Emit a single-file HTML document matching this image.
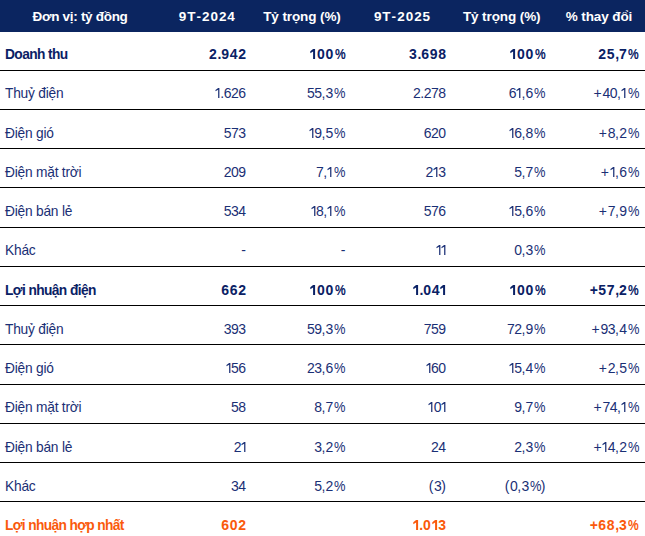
<!DOCTYPE html>
<html><head><meta charset="utf-8"><style>
html,body{margin:0;padding:0;background:#fff;}
body{width:645px;height:536px;position:relative;overflow:hidden;font-family:"Liberation Sans",sans-serif;}
.hdr{position:absolute;left:0;top:0;width:645px;height:32px;background:#0b2560;}
.t{position:absolute;white-space:nowrap;}
.h{position:absolute;white-space:nowrap;font-weight:bold;color:#fff;text-align:center;}
.ln{position:absolute;left:0;width:645px;height:1px;background:#000;}
.b{font-weight:bold;color:#0a2165;}
.r{color:#1a2f75;-webkit-text-stroke:0px #1a2f75;}
.o{font-weight:bold;color:#fa5a0c;}
.R{text-align:right;}
</style></head><body>
<div class="hdr"></div>
<div class="h" style="left:-20px;width:200px;top:9.57px;font-size:13.5px;line-height:13.5px;letter-spacing:-0.3px;">Đơn vị: tỷ đồng</div>
<div class="h" style="left:106.80000000000001px;width:200px;top:9.57px;font-size:13.5px;line-height:13.5px;"><span style="letter-spacing:0.90px">9</span><span style="letter-spacing:1.00px">T</span><span style="letter-spacing:1.20px">-</span><span style="letter-spacing:0.90px">2</span><span style="letter-spacing:0.90px">0</span><span style="letter-spacing:0.90px">2</span>4</div>
<div class="h" style="left:202px;width:200px;top:9.57px;font-size:13.5px;line-height:13.5px;letter-spacing:-0.1px;">Tỷ trọng (%)</div>
<div class="h" style="left:302px;width:200px;top:9.57px;font-size:13.5px;line-height:13.5px;"><span style="letter-spacing:0.90px">9</span><span style="letter-spacing:1.00px">T</span><span style="letter-spacing:1.20px">-</span><span style="letter-spacing:0.90px">2</span><span style="letter-spacing:0.90px">0</span><span style="letter-spacing:0.90px">2</span>5</div>
<div class="h" style="left:401.7px;width:200px;top:9.57px;font-size:13.5px;line-height:13.5px;letter-spacing:-0.1px;">Tỷ trọng (%)</div>
<div class="h" style="left:499px;width:200px;top:9.57px;font-size:13.5px;line-height:13.5px;letter-spacing:-0.1px;">% thay đổi</div>
<div class="t b" style="left:5px;top:47.96px;font-size:13.75px;line-height:13.75px;letter-spacing:-0.6px">Doanh thu</div>
<div class="t b R" style="left:96px;width:150px;top:47.15px;font-size:14px;line-height:14px"><span style="letter-spacing:0.70px">2</span><span style="letter-spacing:-0.10px">.</span><span style="letter-spacing:0.70px">9</span><span style="letter-spacing:0.70px">4</span>2</div>
<div class="t b R" style="left:195.3px;width:150px;top:47.15px;font-size:14px;line-height:14px"><svg width="6.7" height="10" viewBox="0 0 6.7 10" style="display:inline-block;vertical-align:baseline;margin-right:0.00px"><polygon points="0.30,2.20 3.10,0.00 5.10,0.00 5.10,10.00 3.10,10.00 3.10,2.60 0.30,4.20" fill="currentColor"/></svg><span style="letter-spacing:0.70px">0</span><span style="letter-spacing:1.40px">0</span><span style="display:inline-block;transform:scaleX(0.86);transform-origin:0 0;margin-right:-1.74px">%</span></div>
<div class="t b R" style="left:296px;width:150px;top:47.15px;font-size:14px;line-height:14px"><span style="letter-spacing:0.70px">3</span><span style="letter-spacing:-0.10px">.</span><span style="letter-spacing:0.70px">6</span><span style="letter-spacing:0.70px">9</span>8</div>
<div class="t b R" style="left:395.29999999999995px;width:150px;top:47.15px;font-size:14px;line-height:14px"><svg width="6.7" height="10" viewBox="0 0 6.7 10" style="display:inline-block;vertical-align:baseline;margin-right:0.00px"><polygon points="0.30,2.20 3.10,0.00 5.10,0.00 5.10,10.00 3.10,10.00 3.10,2.60 0.30,4.20" fill="currentColor"/></svg><span style="letter-spacing:0.70px">0</span><span style="letter-spacing:1.40px">0</span><span style="display:inline-block;transform:scaleX(0.86);transform-origin:0 0;margin-right:-1.74px">%</span></div>
<div class="t b R" style="left:489px;width:150px;top:47.15px;font-size:14px;line-height:14px"><span style="letter-spacing:0.70px">2</span><span style="letter-spacing:0.70px">5</span><span style="letter-spacing:-0.10px">,</span><span style="letter-spacing:1.40px">7</span><span style="display:inline-block;transform:scaleX(0.86);transform-origin:0 0;margin-right:-1.74px">%</span></div>
<div class="t r" style="left:5px;top:86.96px;font-size:13.75px;line-height:13.75px;letter-spacing:-0.22px">Thuỷ điện</div>
<div class="t r R" style="left:96px;width:150px;top:86.15px;font-size:14px;line-height:14px"><svg width="5.4" height="10" viewBox="0 0 5.4 10" style="display:inline-block;vertical-align:baseline;margin-right:0.00px"><polygon points="0.50,2.00 3.15,0.00 4.40,0.00 4.40,10.00 3.15,10.00 3.15,1.80 0.50,3.30" fill="currentColor"/></svg><span style="letter-spacing:-0.55px">.</span><span style="letter-spacing:-0.55px">6</span><span style="letter-spacing:-0.55px">2</span>6</div>
<div class="t r R" style="left:195.3px;width:150px;top:86.15px;font-size:14px;line-height:14px"><span style="letter-spacing:-0.55px">5</span><span style="letter-spacing:-0.55px">5</span><span style="letter-spacing:0.30px">,</span><span style="letter-spacing:0.45px">3</span><span style="display:inline-block;transform:scaleX(0.92);transform-origin:0 0;margin-right:-1.00px">%</span></div>
<div class="t r R" style="left:296px;width:150px;top:86.15px;font-size:14px;line-height:14px"><span style="letter-spacing:-0.55px">2</span><span style="letter-spacing:-0.55px">.</span><span style="letter-spacing:-0.55px">2</span><span style="letter-spacing:-0.55px">7</span>8</div>
<div class="t r R" style="left:395.29999999999995px;width:150px;top:86.15px;font-size:14px;line-height:14px"><span style="letter-spacing:-0.55px">6</span><svg width="5.4" height="10" viewBox="0 0 5.4 10" style="display:inline-block;vertical-align:baseline;margin-right:0.00px"><polygon points="0.50,2.00 3.15,0.00 4.40,0.00 4.40,10.00 3.15,10.00 3.15,1.80 0.50,3.30" fill="currentColor"/></svg><span style="letter-spacing:0.30px">,</span><span style="letter-spacing:0.45px">6</span><span style="display:inline-block;transform:scaleX(0.92);transform-origin:0 0;margin-right:-1.00px">%</span></div>
<div class="t r R" style="left:489px;width:150px;top:86.15px;font-size:14px;line-height:14px"><span style="letter-spacing:0.90px">+</span><span style="letter-spacing:-0.55px">4</span><span style="letter-spacing:-0.55px">0</span><span style="letter-spacing:0.30px">,</span><svg width="5.4" height="10" viewBox="0 0 5.4 10" style="display:inline-block;vertical-align:baseline;margin-right:1.00px"><polygon points="0.50,2.00 3.15,0.00 4.40,0.00 4.40,10.00 3.15,10.00 3.15,1.80 0.50,3.30" fill="currentColor"/></svg><span style="display:inline-block;transform:scaleX(0.92);transform-origin:0 0;margin-right:-1.00px">%</span></div>
<div class="t r" style="left:5px;top:126.96px;font-size:13.75px;line-height:13.75px;letter-spacing:-0.22px">Điện gió</div>
<div class="t r R" style="left:96px;width:150px;top:126.15px;font-size:14px;line-height:14px"><span style="letter-spacing:-0.55px">5</span><span style="letter-spacing:-0.55px">7</span>3</div>
<div class="t r R" style="left:195.3px;width:150px;top:126.15px;font-size:14px;line-height:14px"><svg width="5.4" height="10" viewBox="0 0 5.4 10" style="display:inline-block;vertical-align:baseline;margin-right:0.00px"><polygon points="0.50,2.00 3.15,0.00 4.40,0.00 4.40,10.00 3.15,10.00 3.15,1.80 0.50,3.30" fill="currentColor"/></svg><span style="letter-spacing:-0.55px">9</span><span style="letter-spacing:0.30px">,</span><span style="letter-spacing:0.45px">5</span><span style="display:inline-block;transform:scaleX(0.92);transform-origin:0 0;margin-right:-1.00px">%</span></div>
<div class="t r R" style="left:296px;width:150px;top:126.15px;font-size:14px;line-height:14px"><span style="letter-spacing:-0.55px">6</span><span style="letter-spacing:-0.55px">2</span>0</div>
<div class="t r R" style="left:395.29999999999995px;width:150px;top:126.15px;font-size:14px;line-height:14px"><svg width="5.4" height="10" viewBox="0 0 5.4 10" style="display:inline-block;vertical-align:baseline;margin-right:0.00px"><polygon points="0.50,2.00 3.15,0.00 4.40,0.00 4.40,10.00 3.15,10.00 3.15,1.80 0.50,3.30" fill="currentColor"/></svg><span style="letter-spacing:-0.55px">6</span><span style="letter-spacing:0.30px">,</span><span style="letter-spacing:0.45px">8</span><span style="display:inline-block;transform:scaleX(0.92);transform-origin:0 0;margin-right:-1.00px">%</span></div>
<div class="t r R" style="left:489px;width:150px;top:126.15px;font-size:14px;line-height:14px"><span style="letter-spacing:0.90px">+</span><span style="letter-spacing:-0.55px">8</span><span style="letter-spacing:0.30px">,</span><span style="letter-spacing:0.45px">2</span><span style="display:inline-block;transform:scaleX(0.92);transform-origin:0 0;margin-right:-1.00px">%</span></div>
<div class="t r" style="left:5px;top:165.96px;font-size:13.75px;line-height:13.75px;letter-spacing:-0.22px">Điện mặt trời</div>
<div class="t r R" style="left:96px;width:150px;top:165.15px;font-size:14px;line-height:14px"><span style="letter-spacing:-0.55px">2</span><span style="letter-spacing:-0.55px">0</span>9</div>
<div class="t r R" style="left:195.3px;width:150px;top:165.15px;font-size:14px;line-height:14px"><span style="letter-spacing:-0.55px">7</span><span style="letter-spacing:0.30px">,</span><svg width="5.4" height="10" viewBox="0 0 5.4 10" style="display:inline-block;vertical-align:baseline;margin-right:1.00px"><polygon points="0.50,2.00 3.15,0.00 4.40,0.00 4.40,10.00 3.15,10.00 3.15,1.80 0.50,3.30" fill="currentColor"/></svg><span style="display:inline-block;transform:scaleX(0.92);transform-origin:0 0;margin-right:-1.00px">%</span></div>
<div class="t r R" style="left:296px;width:150px;top:165.15px;font-size:14px;line-height:14px"><span style="letter-spacing:-0.55px">2</span><svg width="5.4" height="10" viewBox="0 0 5.4 10" style="display:inline-block;vertical-align:baseline;margin-right:0.00px"><polygon points="0.50,2.00 3.15,0.00 4.40,0.00 4.40,10.00 3.15,10.00 3.15,1.80 0.50,3.30" fill="currentColor"/></svg>3</div>
<div class="t r R" style="left:395.29999999999995px;width:150px;top:165.15px;font-size:14px;line-height:14px"><span style="letter-spacing:-0.55px">5</span><span style="letter-spacing:0.30px">,</span><span style="letter-spacing:0.45px">7</span><span style="display:inline-block;transform:scaleX(0.92);transform-origin:0 0;margin-right:-1.00px">%</span></div>
<div class="t r R" style="left:489px;width:150px;top:165.15px;font-size:14px;line-height:14px"><span style="letter-spacing:0.90px">+</span><svg width="5.4" height="10" viewBox="0 0 5.4 10" style="display:inline-block;vertical-align:baseline;margin-right:0.00px"><polygon points="0.50,2.00 3.15,0.00 4.40,0.00 4.40,10.00 3.15,10.00 3.15,1.80 0.50,3.30" fill="currentColor"/></svg><span style="letter-spacing:0.30px">,</span><span style="letter-spacing:0.45px">6</span><span style="display:inline-block;transform:scaleX(0.92);transform-origin:0 0;margin-right:-1.00px">%</span></div>
<div class="t r" style="left:5px;top:204.96px;font-size:13.75px;line-height:13.75px;letter-spacing:-0.22px">Điện bán lẻ</div>
<div class="t r R" style="left:96px;width:150px;top:204.15px;font-size:14px;line-height:14px"><span style="letter-spacing:-0.55px">5</span><span style="letter-spacing:-0.55px">3</span>4</div>
<div class="t r R" style="left:195.3px;width:150px;top:204.15px;font-size:14px;line-height:14px"><svg width="5.4" height="10" viewBox="0 0 5.4 10" style="display:inline-block;vertical-align:baseline;margin-right:0.00px"><polygon points="0.50,2.00 3.15,0.00 4.40,0.00 4.40,10.00 3.15,10.00 3.15,1.80 0.50,3.30" fill="currentColor"/></svg><span style="letter-spacing:-0.55px">8</span><span style="letter-spacing:0.30px">,</span><svg width="5.4" height="10" viewBox="0 0 5.4 10" style="display:inline-block;vertical-align:baseline;margin-right:1.00px"><polygon points="0.50,2.00 3.15,0.00 4.40,0.00 4.40,10.00 3.15,10.00 3.15,1.80 0.50,3.30" fill="currentColor"/></svg><span style="display:inline-block;transform:scaleX(0.92);transform-origin:0 0;margin-right:-1.00px">%</span></div>
<div class="t r R" style="left:296px;width:150px;top:204.15px;font-size:14px;line-height:14px"><span style="letter-spacing:-0.55px">5</span><span style="letter-spacing:-0.55px">7</span>6</div>
<div class="t r R" style="left:395.29999999999995px;width:150px;top:204.15px;font-size:14px;line-height:14px"><svg width="5.4" height="10" viewBox="0 0 5.4 10" style="display:inline-block;vertical-align:baseline;margin-right:0.00px"><polygon points="0.50,2.00 3.15,0.00 4.40,0.00 4.40,10.00 3.15,10.00 3.15,1.80 0.50,3.30" fill="currentColor"/></svg><span style="letter-spacing:-0.55px">5</span><span style="letter-spacing:0.30px">,</span><span style="letter-spacing:0.45px">6</span><span style="display:inline-block;transform:scaleX(0.92);transform-origin:0 0;margin-right:-1.00px">%</span></div>
<div class="t r R" style="left:489px;width:150px;top:204.15px;font-size:14px;line-height:14px"><span style="letter-spacing:0.90px">+</span><span style="letter-spacing:-0.55px">7</span><span style="letter-spacing:0.30px">,</span><span style="letter-spacing:0.45px">9</span><span style="display:inline-block;transform:scaleX(0.92);transform-origin:0 0;margin-right:-1.00px">%</span></div>
<div class="t r" style="left:5px;top:243.96px;font-size:13.75px;line-height:13.75px;letter-spacing:-0.22px">Khác</div>
<div class="t r R" style="left:96px;width:150px;top:243.15px;font-size:14px;line-height:14px">-</div>
<div class="t r R" style="left:195.3px;width:150px;top:243.15px;font-size:14px;line-height:14px">-</div>
<div class="t r R" style="left:296px;width:150px;top:243.15px;font-size:14px;line-height:14px"><svg width="5.4" height="10" viewBox="0 0 5.4 10" style="display:inline-block;vertical-align:baseline;margin-right:0.00px"><polygon points="0.50,2.00 3.15,0.00 4.40,0.00 4.40,10.00 3.15,10.00 3.15,1.80 0.50,3.30" fill="currentColor"/></svg><svg width="5.0" height="10" viewBox="0 0 5.0 10" style="display:inline-block;vertical-align:baseline;margin-right:0.00px"><polygon points="0.50,2.00 3.15,0.00 4.40,0.00 4.40,10.00 3.15,10.00 3.15,1.80 0.50,3.30" fill="currentColor"/></svg></div>
<div class="t r R" style="left:395.29999999999995px;width:150px;top:243.15px;font-size:14px;line-height:14px"><span style="letter-spacing:-0.55px">0</span><span style="letter-spacing:0.30px">,</span><span style="letter-spacing:0.45px">3</span><span style="display:inline-block;transform:scaleX(0.92);transform-origin:0 0;margin-right:-1.00px">%</span></div>
<div class="t b" style="left:5px;top:283.96px;font-size:13.75px;line-height:13.75px;letter-spacing:-0.6px">Lợi nhuận điện</div>
<div class="t b R" style="left:96px;width:150px;top:283.15px;font-size:14px;line-height:14px"><span style="letter-spacing:0.70px">6</span><span style="letter-spacing:0.70px">6</span>2</div>
<div class="t b R" style="left:195.3px;width:150px;top:283.15px;font-size:14px;line-height:14px"><svg width="6.7" height="10" viewBox="0 0 6.7 10" style="display:inline-block;vertical-align:baseline;margin-right:0.00px"><polygon points="0.30,2.20 3.10,0.00 5.10,0.00 5.10,10.00 3.10,10.00 3.10,2.60 0.30,4.20" fill="currentColor"/></svg><span style="letter-spacing:0.70px">0</span><span style="letter-spacing:1.40px">0</span><span style="display:inline-block;transform:scaleX(0.86);transform-origin:0 0;margin-right:-1.74px">%</span></div>
<div class="t b R" style="left:296px;width:150px;top:283.15px;font-size:14px;line-height:14px"><svg width="6.7" height="10" viewBox="0 0 6.7 10" style="display:inline-block;vertical-align:baseline;margin-right:0.00px"><polygon points="0.30,2.20 3.10,0.00 5.10,0.00 5.10,10.00 3.10,10.00 3.10,2.60 0.30,4.20" fill="currentColor"/></svg><span style="letter-spacing:-0.10px">.</span><span style="letter-spacing:0.70px">0</span><span style="letter-spacing:0.70px">4</span><svg width="5.7" height="10" viewBox="0 0 5.7 10" style="display:inline-block;vertical-align:baseline;margin-right:0.00px"><polygon points="0.30,2.20 3.10,0.00 5.10,0.00 5.10,10.00 3.10,10.00 3.10,2.60 0.30,4.20" fill="currentColor"/></svg></div>
<div class="t b R" style="left:395.29999999999995px;width:150px;top:283.15px;font-size:14px;line-height:14px"><svg width="6.7" height="10" viewBox="0 0 6.7 10" style="display:inline-block;vertical-align:baseline;margin-right:0.00px"><polygon points="0.30,2.20 3.10,0.00 5.10,0.00 5.10,10.00 3.10,10.00 3.10,2.60 0.30,4.20" fill="currentColor"/></svg><span style="letter-spacing:0.70px">0</span><span style="letter-spacing:1.40px">0</span><span style="display:inline-block;transform:scaleX(0.86);transform-origin:0 0;margin-right:-1.74px">%</span></div>
<div class="t b R" style="left:489px;width:150px;top:283.15px;font-size:14px;line-height:14px"><span style="letter-spacing:0.30px">+</span><span style="letter-spacing:0.70px">5</span><span style="letter-spacing:0.70px">7</span><span style="letter-spacing:-0.10px">,</span><span style="letter-spacing:1.40px">2</span><span style="display:inline-block;transform:scaleX(0.86);transform-origin:0 0;margin-right:-1.74px">%</span></div>
<div class="t r" style="left:5px;top:322.96px;font-size:13.75px;line-height:13.75px;letter-spacing:-0.22px">Thuỷ điện</div>
<div class="t r R" style="left:96px;width:150px;top:322.15px;font-size:14px;line-height:14px"><span style="letter-spacing:-0.55px">3</span><span style="letter-spacing:-0.55px">9</span>3</div>
<div class="t r R" style="left:195.3px;width:150px;top:322.15px;font-size:14px;line-height:14px"><span style="letter-spacing:-0.55px">5</span><span style="letter-spacing:-0.55px">9</span><span style="letter-spacing:0.30px">,</span><span style="letter-spacing:0.45px">3</span><span style="display:inline-block;transform:scaleX(0.92);transform-origin:0 0;margin-right:-1.00px">%</span></div>
<div class="t r R" style="left:296px;width:150px;top:322.15px;font-size:14px;line-height:14px"><span style="letter-spacing:-0.55px">7</span><span style="letter-spacing:-0.55px">5</span>9</div>
<div class="t r R" style="left:395.29999999999995px;width:150px;top:322.15px;font-size:14px;line-height:14px"><span style="letter-spacing:-0.55px">7</span><span style="letter-spacing:-0.55px">2</span><span style="letter-spacing:0.30px">,</span><span style="letter-spacing:0.45px">9</span><span style="display:inline-block;transform:scaleX(0.92);transform-origin:0 0;margin-right:-1.00px">%</span></div>
<div class="t r R" style="left:489px;width:150px;top:322.15px;font-size:14px;line-height:14px"><span style="letter-spacing:0.90px">+</span><span style="letter-spacing:-0.55px">9</span><span style="letter-spacing:-0.55px">3</span><span style="letter-spacing:0.30px">,</span><span style="letter-spacing:0.45px">4</span><span style="display:inline-block;transform:scaleX(0.92);transform-origin:0 0;margin-right:-1.00px">%</span></div>
<div class="t r" style="left:5px;top:361.96px;font-size:13.75px;line-height:13.75px;letter-spacing:-0.22px">Điện gió</div>
<div class="t r R" style="left:96px;width:150px;top:361.15px;font-size:14px;line-height:14px"><svg width="5.4" height="10" viewBox="0 0 5.4 10" style="display:inline-block;vertical-align:baseline;margin-right:0.00px"><polygon points="0.50,2.00 3.15,0.00 4.40,0.00 4.40,10.00 3.15,10.00 3.15,1.80 0.50,3.30" fill="currentColor"/></svg><span style="letter-spacing:-0.55px">5</span>6</div>
<div class="t r R" style="left:195.3px;width:150px;top:361.15px;font-size:14px;line-height:14px"><span style="letter-spacing:-0.55px">2</span><span style="letter-spacing:-0.55px">3</span><span style="letter-spacing:0.30px">,</span><span style="letter-spacing:0.45px">6</span><span style="display:inline-block;transform:scaleX(0.92);transform-origin:0 0;margin-right:-1.00px">%</span></div>
<div class="t r R" style="left:296px;width:150px;top:361.15px;font-size:14px;line-height:14px"><svg width="5.4" height="10" viewBox="0 0 5.4 10" style="display:inline-block;vertical-align:baseline;margin-right:0.00px"><polygon points="0.50,2.00 3.15,0.00 4.40,0.00 4.40,10.00 3.15,10.00 3.15,1.80 0.50,3.30" fill="currentColor"/></svg><span style="letter-spacing:-0.55px">6</span>0</div>
<div class="t r R" style="left:395.29999999999995px;width:150px;top:361.15px;font-size:14px;line-height:14px"><svg width="5.4" height="10" viewBox="0 0 5.4 10" style="display:inline-block;vertical-align:baseline;margin-right:0.00px"><polygon points="0.50,2.00 3.15,0.00 4.40,0.00 4.40,10.00 3.15,10.00 3.15,1.80 0.50,3.30" fill="currentColor"/></svg><span style="letter-spacing:-0.55px">5</span><span style="letter-spacing:0.30px">,</span><span style="letter-spacing:0.45px">4</span><span style="display:inline-block;transform:scaleX(0.92);transform-origin:0 0;margin-right:-1.00px">%</span></div>
<div class="t r R" style="left:489px;width:150px;top:361.15px;font-size:14px;line-height:14px"><span style="letter-spacing:0.90px">+</span><span style="letter-spacing:-0.55px">2</span><span style="letter-spacing:0.30px">,</span><span style="letter-spacing:0.45px">5</span><span style="display:inline-block;transform:scaleX(0.92);transform-origin:0 0;margin-right:-1.00px">%</span></div>
<div class="t r" style="left:5px;top:400.96px;font-size:13.75px;line-height:13.75px;letter-spacing:-0.22px">Điện mặt trời</div>
<div class="t r R" style="left:96px;width:150px;top:400.15px;font-size:14px;line-height:14px"><span style="letter-spacing:-0.55px">5</span>8</div>
<div class="t r R" style="left:195.3px;width:150px;top:400.15px;font-size:14px;line-height:14px"><span style="letter-spacing:-0.55px">8</span><span style="letter-spacing:0.30px">,</span><span style="letter-spacing:0.45px">7</span><span style="display:inline-block;transform:scaleX(0.92);transform-origin:0 0;margin-right:-1.00px">%</span></div>
<div class="t r R" style="left:296px;width:150px;top:400.15px;font-size:14px;line-height:14px"><svg width="5.4" height="10" viewBox="0 0 5.4 10" style="display:inline-block;vertical-align:baseline;margin-right:0.00px"><polygon points="0.50,2.00 3.15,0.00 4.40,0.00 4.40,10.00 3.15,10.00 3.15,1.80 0.50,3.30" fill="currentColor"/></svg><span style="letter-spacing:-0.55px">0</span><svg width="5.0" height="10" viewBox="0 0 5.0 10" style="display:inline-block;vertical-align:baseline;margin-right:0.00px"><polygon points="0.50,2.00 3.15,0.00 4.40,0.00 4.40,10.00 3.15,10.00 3.15,1.80 0.50,3.30" fill="currentColor"/></svg></div>
<div class="t r R" style="left:395.29999999999995px;width:150px;top:400.15px;font-size:14px;line-height:14px"><span style="letter-spacing:-0.55px">9</span><span style="letter-spacing:0.30px">,</span><span style="letter-spacing:0.45px">7</span><span style="display:inline-block;transform:scaleX(0.92);transform-origin:0 0;margin-right:-1.00px">%</span></div>
<div class="t r R" style="left:489px;width:150px;top:400.15px;font-size:14px;line-height:14px"><span style="letter-spacing:0.90px">+</span><span style="letter-spacing:-0.55px">7</span><span style="letter-spacing:-0.55px">4</span><span style="letter-spacing:0.30px">,</span><svg width="5.4" height="10" viewBox="0 0 5.4 10" style="display:inline-block;vertical-align:baseline;margin-right:1.00px"><polygon points="0.50,2.00 3.15,0.00 4.40,0.00 4.40,10.00 3.15,10.00 3.15,1.80 0.50,3.30" fill="currentColor"/></svg><span style="display:inline-block;transform:scaleX(0.92);transform-origin:0 0;margin-right:-1.00px">%</span></div>
<div class="t r" style="left:5px;top:440.96px;font-size:13.75px;line-height:13.75px;letter-spacing:-0.22px">Điện bán lẻ</div>
<div class="t r R" style="left:96px;width:150px;top:440.15px;font-size:14px;line-height:14px"><span style="letter-spacing:-0.55px">2</span><svg width="5.0" height="10" viewBox="0 0 5.0 10" style="display:inline-block;vertical-align:baseline;margin-right:0.00px"><polygon points="0.50,2.00 3.15,0.00 4.40,0.00 4.40,10.00 3.15,10.00 3.15,1.80 0.50,3.30" fill="currentColor"/></svg></div>
<div class="t r R" style="left:195.3px;width:150px;top:440.15px;font-size:14px;line-height:14px"><span style="letter-spacing:-0.55px">3</span><span style="letter-spacing:0.30px">,</span><span style="letter-spacing:0.45px">2</span><span style="display:inline-block;transform:scaleX(0.92);transform-origin:0 0;margin-right:-1.00px">%</span></div>
<div class="t r R" style="left:296px;width:150px;top:440.15px;font-size:14px;line-height:14px"><span style="letter-spacing:-0.55px">2</span>4</div>
<div class="t r R" style="left:395.29999999999995px;width:150px;top:440.15px;font-size:14px;line-height:14px"><span style="letter-spacing:-0.55px">2</span><span style="letter-spacing:0.30px">,</span><span style="letter-spacing:0.45px">3</span><span style="display:inline-block;transform:scaleX(0.92);transform-origin:0 0;margin-right:-1.00px">%</span></div>
<div class="t r R" style="left:489px;width:150px;top:440.15px;font-size:14px;line-height:14px"><span style="letter-spacing:0.90px">+</span><svg width="5.4" height="10" viewBox="0 0 5.4 10" style="display:inline-block;vertical-align:baseline;margin-right:0.00px"><polygon points="0.50,2.00 3.15,0.00 4.40,0.00 4.40,10.00 3.15,10.00 3.15,1.80 0.50,3.30" fill="currentColor"/></svg><span style="letter-spacing:-0.55px">4</span><span style="letter-spacing:0.30px">,</span><span style="letter-spacing:0.45px">2</span><span style="display:inline-block;transform:scaleX(0.92);transform-origin:0 0;margin-right:-1.00px">%</span></div>
<div class="t r" style="left:5px;top:479.96px;font-size:13.75px;line-height:13.75px;letter-spacing:-0.22px">Khác</div>
<div class="t r R" style="left:96px;width:150px;top:479.15px;font-size:14px;line-height:14px"><span style="letter-spacing:-0.55px">3</span>4</div>
<div class="t r R" style="left:195.3px;width:150px;top:479.15px;font-size:14px;line-height:14px"><span style="letter-spacing:-0.55px">5</span><span style="letter-spacing:0.30px">,</span><span style="letter-spacing:0.45px">2</span><span style="display:inline-block;transform:scaleX(0.92);transform-origin:0 0;margin-right:-1.00px">%</span></div>
<div class="t r R" style="left:296px;width:150px;top:479.15px;font-size:14px;line-height:14px"><span style="letter-spacing:0.60px">(</span><span style="letter-spacing:-0.55px">3</span>)</div>
<div class="t r R" style="left:395.29999999999995px;width:150px;top:479.15px;font-size:14px;line-height:14px"><span style="letter-spacing:0.60px">(</span><span style="letter-spacing:-0.55px">0</span><span style="letter-spacing:0.30px">,</span><span style="letter-spacing:0.45px">3</span><span style="display:inline-block;transform:scaleX(0.92);transform-origin:0 0;margin-right:-1.55px">%</span>)</div>
<div class="t o" style="left:5px;top:518.96px;font-size:13.75px;line-height:13.75px;letter-spacing:-0.65px">Lợi nhuận hợp nhất</div>
<div class="t o R" style="left:96px;width:150px;top:518.15px;font-size:14px;line-height:14px"><span style="letter-spacing:0.70px">6</span><span style="letter-spacing:0.70px">0</span>2</div>
<div class="t o R" style="left:296px;width:150px;top:518.15px;font-size:14px;line-height:14px"><svg width="6.7" height="10" viewBox="0 0 6.7 10" style="display:inline-block;vertical-align:baseline;margin-right:0.00px"><polygon points="0.30,2.20 3.10,0.00 5.10,0.00 5.10,10.00 3.10,10.00 3.10,2.60 0.30,4.20" fill="currentColor"/></svg><span style="letter-spacing:-0.10px">.</span><span style="letter-spacing:0.70px">0</span><svg width="6.7" height="10" viewBox="0 0 6.7 10" style="display:inline-block;vertical-align:baseline;margin-right:0.00px"><polygon points="0.30,2.20 3.10,0.00 5.10,0.00 5.10,10.00 3.10,10.00 3.10,2.60 0.30,4.20" fill="currentColor"/></svg>3</div>
<div class="t o R" style="left:489px;width:150px;top:518.15px;font-size:14px;line-height:14px"><span style="letter-spacing:0.30px">+</span><span style="letter-spacing:0.70px">6</span><span style="letter-spacing:0.70px">8</span><span style="letter-spacing:-0.10px">,</span><span style="letter-spacing:1.40px">3</span><span style="display:inline-block;transform:scaleX(0.86);transform-origin:0 0;margin-right:-1.74px">%</span></div>
<div class="ln" style="top:70px"></div>
<div class="ln" style="top:109px"></div>
<div class="ln" style="top:148px"></div>
<div class="ln" style="top:187px"></div>
<div class="ln" style="top:227px"></div>
<div class="ln" style="top:266px"></div>
<div class="ln" style="top:305px"></div>
<div class="ln" style="top:344px"></div>
<div class="ln" style="top:384px"></div>
<div class="ln" style="top:423px"></div>
<div class="ln" style="top:462px"></div>
<div class="ln" style="top:501px"></div>
</body></html>
